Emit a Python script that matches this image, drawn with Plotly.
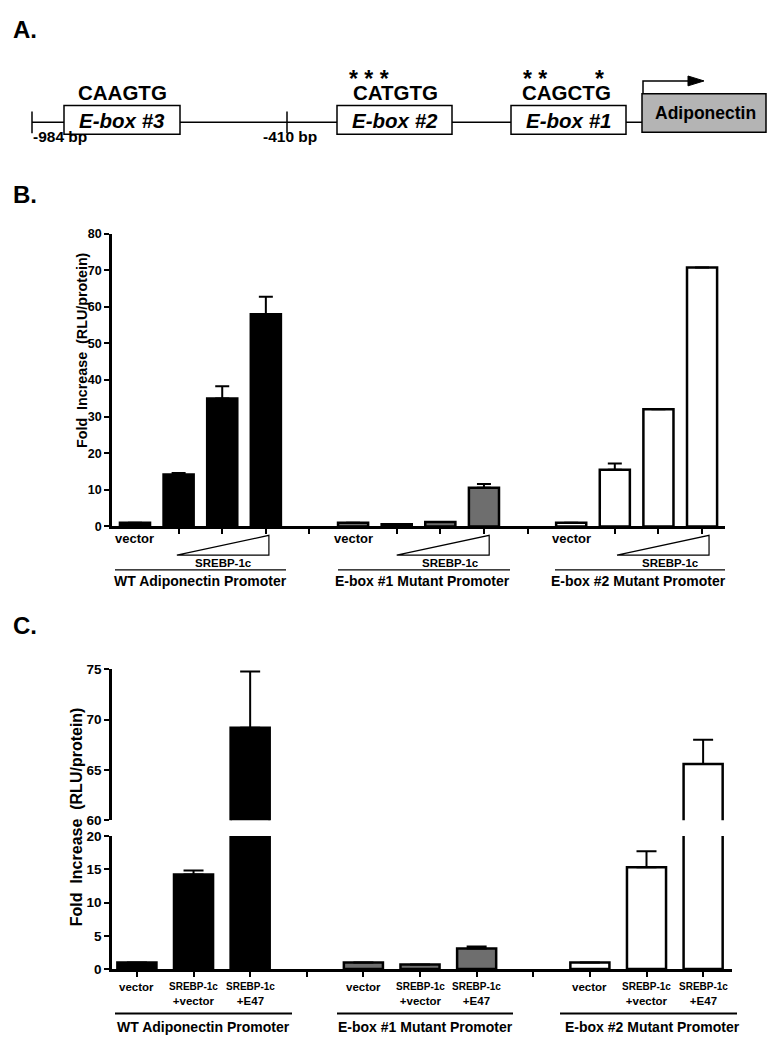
import plotly.graph_objects as go

W, H = 779, 1050
FONT = "Liberation Sans, Arial, Helvetica, sans-serif"

# ---------------- data ----------------
groups = ["WT Adiponectin Promoter", "E-box #1 Mutant Promoter", "E-box #2 Mutant Promoter"]

b_conditions = ["vector", "SREBP-1c low", "SREBP-1c mid", "SREBP-1c high"]
b_wt = [1.0, 14.2, 35.0, 58.0]
b_wt_err = [0.0, 0.4, 3.3, 4.8]
b_e1 = [1.0, 0.6, 1.2, 10.6]
b_e1_err = [0.0, 0.0, 0.0, 1.0]
b_e2 = [1.0, 15.5, 32.0, 70.8]
b_e2_err = [0.0, 1.7, 0.0, 0.0]
b_yticks = [0, 10, 20, 30, 40, 50, 60, 70, 80]

c_conditions = ["vector", "SREBP-1c +vector", "SREBP-1c +E47"]
c_wt = [1.0, 14.2, 69.2]
c_wt_err = [0.0, 0.6, 5.6]
c_e1 = [1.0, 0.7, 3.1]
c_e1_err = [0.0, 0.0, 0.3]
c_e2 = [1.0, 15.3, 65.6]
c_e2_err = [0.0, 2.4, 2.4]
c_yticks_low = [0, 5, 10, 15, 20]
c_yticks_high = [60, 65, 70, 75]

a_sites = ["E-box #3", "E-box #2", "E-box #1"]
a_seqs = ["CAAGTG", "CATGTG", "CAGCTG"]
a_positions = ["-984 bp", "-410 bp"]
a_gene = "Adiponectin"

# ---------------- helpers ----------------
def px(x):
    return x / W

def py(y):
    return 1 - y / H

def build_cats(grps, conds):
    cats, gaps = [], []
    for i, g in enumerate(grps):
        if i:
            gaps.append(f"gap{i}")
            cats.append(f"gap{i}")
        cats += [f"{g}|{c}" for c in conds]
    return cats, gaps

b_cats, b_gaps = build_cats(groups, b_conditions)
c_cats, c_gaps = build_cats(groups, c_conditions)

B_XPIX = (112, 725)
B_XR = [-0.527, 13.526]
C_XPIX = (112, 732)
C_XR = [-0.44, 10.51]

def slot_px(s, xpix, xr):
    return xpix[0] + (s - xr[0]) / (xr[1] - xr[0]) * (xpix[1] - xpix[0])

fills = ["#000000", "#6e6e6e", "#ffffff"]

fig = go.Figure()

# ---------------- panel B bars ----------------
for g, v, e, f in zip(groups, [b_wt, b_e1, b_e2], [b_wt_err, b_e1_err, b_e2_err], fills):
    fig.add_trace(go.Bar(
        x=[f"{g}|{c}" for c in b_conditions], y=v, width=0.69,
        marker=dict(color=f, line=dict(color="black", width=2.5)),
        error_y=dict(type="data", symmetric=False, array=e, arrayminus=[0] * len(e),
                     color="black", thickness=2, width=7),
        xaxis="x", yaxis="y", showlegend=False, hoverinfo="x+y"))
fig.add_trace(go.Bar(x=b_gaps, y=[0] * len(b_gaps), marker=dict(opacity=0, line=dict(width=0)),
                     xaxis="x", yaxis="y", showlegend=False, hoverinfo="skip"))

# ---------------- panel C bars (broken axis: two y axes) ----------------
for yax in ["y2", "y3"]:
    for g, v, e, f in zip(groups, [c_wt, c_e1, c_e2], [c_wt_err, c_e1_err, c_e2_err], fills):
        fig.add_trace(go.Bar(
            x=[f"{g}|{c}" for c in c_conditions], y=v, width=0.69,
            marker=dict(color=f, line=dict(color="black", width=2.5)),
            error_y=dict(type="data", symmetric=False, array=e, arrayminus=[0] * len(e),
                         color="black", thickness=2, width=10),
            xaxis="x2", yaxis=yax, showlegend=False, hoverinfo="x+y"))
    fig.add_trace(go.Bar(x=c_gaps, y=[0] * len(c_gaps), marker=dict(opacity=0, line=dict(width=0)),
                         xaxis="x2", yaxis=yax, showlegend=False, hoverinfo="skip"))

axis_common = dict(showgrid=False, zeroline=False, showline=True, linecolor="black",
                   linewidth=2.5, ticks="outside", ticklen=5, tickwidth=2, tickcolor="black")
tickfont_b = dict(family=FONT, size=12.5, color="black", weight="bold")
tickfont_c = dict(family=FONT, size=13.5, color="black", weight="bold")

b_tickvals = [c for c in b_cats if not c.endswith("|vector")]

fig.update_layout(
    width=W, height=H, margin=dict(l=0, r=0, t=0, b=0),
    paper_bgcolor="white", plot_bgcolor="rgba(0,0,0,0)",
    barmode="overlay", showlegend=False,
    xaxis=dict(domain=[px(B_XPIX[0]), px(B_XPIX[1])], anchor="y", type="category",
               categoryorder="array", categoryarray=b_cats, range=B_XR,
               tickvals=b_tickvals, showticklabels=False, **axis_common),
    yaxis=dict(domain=[py(527), py(230)], anchor="x", range=[0, 80], tickvals=b_yticks,
               tickfont=tickfont_b, **axis_common),
    xaxis2=dict(domain=[px(C_XPIX[0]), px(C_XPIX[1])], anchor="y2", type="category",
                categoryorder="array", categoryarray=c_cats, range=C_XR,
                tickvals=c_cats, showticklabels=False, **axis_common),
    yaxis2=dict(domain=[py(976), py(841)], anchor="x2", range=[0, 20], tickvals=c_yticks_low,
                tickfont=tickfont_c, **axis_common),
    yaxis3=dict(domain=[py(825), py(672)], anchor="x2", range=[60, 75], tickvals=c_yticks_high,
                tickfont=tickfont_c, **axis_common),
)

shapes = []
anns = []

def line(x0, y0, x1, y1, w=1.5, color="black"):
    shapes.append(dict(type="line", xref="paper", yref="paper", x0=px(x0), y0=py(y0),
                       x1=px(x1), y1=py(y1), line=dict(color=color, width=w)))

def rect(x0, y0, x1, y1, fill="white", w=1.5):
    shapes.append(dict(type="rect", xref="paper", yref="paper", x0=px(x0), y0=py(y0),
                       x1=px(x1), y1=py(y1), fillcolor=fill, line=dict(color="black", width=w)))

def path(points, fill=None, w=1.2, closed=True):
    d = "M " + " L ".join(f"{px(x):.5f},{py(y):.5f}" for x, y in points) + (" Z" if closed else "")
    s = dict(type="path", xref="paper", yref="paper", path=d, line=dict(color="black", width=w))
    if fill:
        s["fillcolor"] = fill
    shapes.append(s)

def text(x, y, s, size, xanchor="center", yanchor="middle", angle=0, xref="paper"):
    anns.append(dict(x=px(x) if xref == "paper" else x, y=py(y), xref=xref, yref="paper",
                     text=s, showarrow=False, textangle=angle,
                     font=dict(family=FONT, size=size, color="black"),
                     xanchor=xanchor, yanchor=yanchor))

# ---------------- panel A (promoter schematic) ----------------
text(11, 23, "<b>A.</b>", 24, xanchor="left")
line(32, 117, 642, 117, w=1.5)
line(32, 106, 32, 128, w=1.5)
line(287, 106, 287, 128, w=1.5)
box_x = [(64, 180), (337, 452), (511, 626)]
seq_cx = [122, 395, 566]
for (x0, x1), name, seq, scx in zip(box_x, a_sites, a_seqs, seq_cx):
    rect(x0, 100, x1, 129, fill="white", w=1.5)
    text((x0 + x1) / 2, 115, f"<b><i>{name}</i></b>", 20.5)
    text(scx, 87, f"<b>{seq}</b>", 20.5)
rect(642, 88, 766, 127, fill="#b4b4b4", w=1.5)
text(705, 108, f"<b>{a_gene}</b>", 17.5)
path([(643, 88), (643, 75), (690, 75)], w=1.5, closed=False)
path([(688, 70), (704, 75), (688, 80)], fill="black", w=1)
text(60, 131, f"<b>{a_positions[0]}</b>", 15.5)
text(290, 131, f"<b>{a_positions[1]}</b>", 15.5)
text(369, 73, "<b>* * *</b>", 23)
text(535, 73, "<b>* *</b>", 23)
text(599, 73, "<b>*</b>", 23)

# ---------------- panel B labels ----------------
text(11, 190, "<b>B.</b>", 24, xanchor="left")
text(82, 348, "<b>Fold&nbsp; Increase&nbsp; (RLU/protein)</b>", 14.3, angle=-90)
wedge_rel = [(0.96, 3.07), (1.0, 3.12), (1.05, 3.16)]
label_rel = [2.04, 2.24, 2.27]
b_under = [(115, 286), (338, 510), (555, 725)]
b_group_cx = [200, 422, 638]
for gi, g in enumerate(groups):
    base = b_cats.index(f"{g}|vector")
    text(base, 539, "<b>vector</b>", 13, xref="x")
    l0 = slot_px(base + wedge_rel[gi][0], B_XPIX, B_XR)
    r0 = slot_px(base + wedge_rel[gi][1], B_XPIX, B_XR)
    path([(l0, 556), (r0, 536), (r0, 556)], w=1.2)
    text(slot_px(base + label_rel[gi], B_XPIX, B_XR), 564, "<b>SREBP-1c</b>", 11.5)
    line(b_under[gi][0], 571, b_under[gi][1], 571, w=1.2)
    text(b_group_cx[gi], 582, f"<b>{g}</b>", 14)

# ---------------- panel C labels ----------------
text(11, 627, "<b>C.</b>", 24, xanchor="left")
text(76, 822, "<b>Fold&nbsp; Increase&nbsp; (RLU/protein)</b>", 16, angle=-90)
c_under = [(115, 292), (337, 513), (560, 737)]
c_group_cx = [203, 425, 652]
for gi, g in enumerate(groups):
    for c in c_conditions:
        parts = c.split(" ")
        if len(parts) == 1:
            label = f"<b>{parts[0]}</b>"
        else:
            label = f"<b><span style='font-size:10px'>{parts[0]}</span><br>{parts[1]}</b>"
        anns.append(dict(x=f"{g}|{c}", y=py(986), xref="x2", yref="paper",
                         text=label, showarrow=False,
                         font=dict(family=FONT, size=11.5, color="black"),
                         xanchor="center", yanchor="top"))
    line(c_under[gi][0], 1021, c_under[gi][1], 1021, w=2)
    text(c_group_cx[gi], 1035, f"<b>{g}</b>", 14)

fig.update_layout(shapes=shapes, annotations=anns)
fig.write_html(
    "out.html",
    config={"displayModeBar": False},
    post_script="document.body.style.margin='0';document.body.style.padding='0';"
                "document.documentElement.style.overflow='hidden';",
)
